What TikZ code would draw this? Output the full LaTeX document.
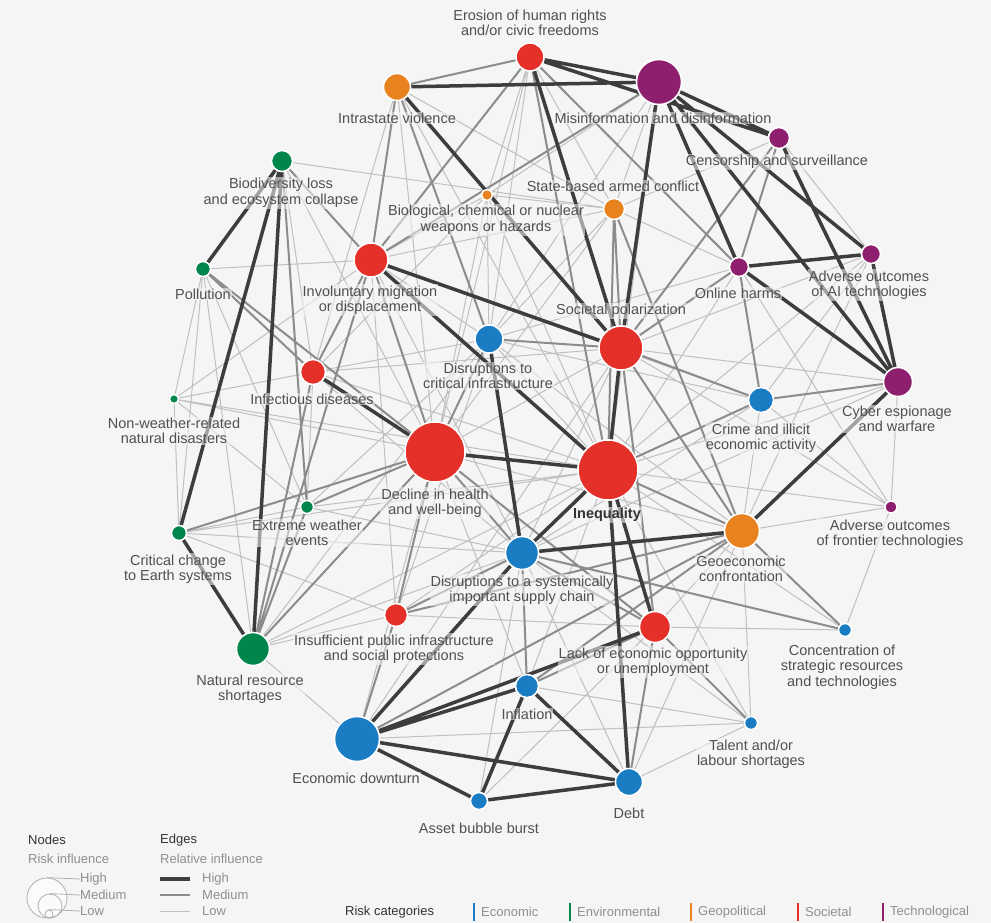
\documentclass[tikz,border=0pt]{standalone}
\usepackage{fontspec}
\setmainfont{Liberation Sans}
\usepackage{xcolor}
\usepackage{tikz}

\definecolor{bgcol}{HTML}{F5F5F5}
\definecolor{ecocol}{HTML}{1A7DC4}
\definecolor{envcol}{HTML}{00854A}
\definecolor{geocol}{HTML}{E8821E}
\definecolor{soccol}{HTML}{E5302A}
\definecolor{teccol}{HTML}{8E1F6E}
\definecolor{txtcol}{HTML}{505050}
\definecolor{hicol}{HTML}{3D3D3D}
\definecolor{mdcol}{HTML}{8C8C8C}
\definecolor{locol}{HTML}{C0C0C0}
\definecolor{lgdark}{HTML}{333333}
\definecolor{lglight}{HTML}{8F8F8F}
\definecolor{lgline}{HTML}{B0B0B0}

\pgfdeclarelayer{bg}
\pgfdeclarelayer{edges}
\pgfsetlayers{bg,edges,main}

\begin{document}
\begin{tikzpicture}[x=1pt, y=-1pt,
	nd/.style={circle, draw=white, line width=1.5pt, inner sep=0pt},
	eco/.style={nd, fill=ecocol},
	env/.style={nd, fill=envcol},
	geo/.style={nd, fill=geocol},
	soc/.style={nd, fill=soccol},
	tec/.style={nd, fill=teccol},
	lbl/.style={text=txtcol, align=center, inner sep=1pt, fill=bgcol, fill opacity=0.55, text opacity=1, font=\fontsize{14.5}{15.5}\selectfont},
	hi/.style={draw=hicol, line width=3.5pt},
	md/.style={draw=mdcol, line width=2pt},
	lo/.style={draw=locol, line width=1pt},
	lgt/.style={anchor=west, inner sep=0pt, text=lglight, font=\fontsize{13}{15}\selectfont},
	lgh/.style={lgt, text=lgdark}]
	\begin{pgfonlayer}{bg}
		\fill[bgcol] (0,0) rectangle (991,923);
	\end{pgfonlayer}
	\useasboundingbox (0,0) rectangle (991,923);

	\node[soc, minimum size=28pt] (hr) at (530,57) {};
	\node[tec, minimum size=45pt] (misinfo) at (659,82) {};
	\node[geo, minimum size=27pt] (intra) at (397,87) {};
	\node[tec, minimum size=21pt] (censor) at (779,138) {};
	\node[env, minimum size=21pt] (biodiv) at (282,161) {};
	\node[geo, minimum size=11pt] (bio) at (487,195) {};
	\node[geo, minimum size=21pt] (armed) at (614,209) {};
	\node[tec, minimum size=19pt] (ai) at (871,254) {};
	\node[soc, minimum size=34pt] (migr) at (371,260) {};
	\node[tec, minimum size=19pt] (online) at (739,267) {};
	\node[env, minimum size=15pt] (pollu) at (203,269) {};
	\node[eco, minimum size=28pt] (crit) at (489,339) {};
	\node[soc, minimum size=44pt] (polar) at (621,348) {};
	\node[soc, minimum size=25pt] (infect) at (313,372) {};
	\node[tec, minimum size=29pt] (cyber) at (898,382) {};
	\node[env, minimum size=9pt] (nonweather) at (174,399) {};
	\node[eco, minimum size=25pt] (crime) at (761,400) {};
	\node[soc, minimum size=60pt] (health) at (435,452) {};
	\node[soc, minimum size=60pt] (ineq) at (608,470) {};
	\node[env, minimum size=13pt] (extreme) at (307,507) {};
	\node[tec, minimum size=12pt] (frontier) at (891,507) {};
	\node[env, minimum size=15pt] (earth) at (179,533) {};
	\node[geo, minimum size=35pt] (geoeco) at (742,531) {};
	\node[eco, minimum size=33pt] (supply) at (522,553) {};
	\node[soc, minimum size=23pt] (insuff) at (396,615) {};
	\node[soc, minimum size=31pt] (lack) at (655,627) {};
	\node[eco, minimum size=13pt] (conc) at (845,630) {};
	\node[env, minimum size=33pt] (natres) at (253,649) {};
	\node[eco, minimum size=23pt] (infl) at (527,686) {};
	\node[eco, minimum size=13pt] (talent) at (751,723) {};
	\node[eco, minimum size=45pt] (downturn) at (357,739) {};
	\node[eco, minimum size=27pt] (debt) at (629,782) {};
	\node[eco, minimum size=17pt] (bubble) at (479,801) {};

	\begin{pgfonlayer}{edges}
		\draw[lo] (biodiv) -- (armed) (biodiv) -- (infect) (biodiv) -- (health) (pollu) -- (migr) (pollu) -- (earth)
			(pollu) -- (nonweather) (pollu) -- (natres) (pollu) -- (extreme)
			(nonweather) -- (migr) (nonweather) -- (infect) (nonweather) -- (health) (nonweather) -- (ineq)
			(nonweather) -- (earth) (nonweather) -- (extreme)
			(earth) -- (extreme) (earth) -- (ineq) (earth) -- (supply) (earth) -- (insuff)
			(extreme) -- (ineq) (extreme) -- (supply) (extreme) -- (crit) (extreme) -- (infect)
			(natres) -- (crit) (natres) -- (ineq) (natres) -- (supply) (natres) -- (insuff) (natres) -- (downturn)
			(insuff) -- (ineq) (insuff) -- (crit) (insuff) -- (lack) (insuff) -- (migr)
			(health) -- (polar) (health) -- (intra) (health) -- (bio) (health) -- (geoeco) (health) -- (infl) (health) -- (downturn)
			(ineq) -- (intra) (ineq) -- (bio) (ineq) -- (crit) (ineq) -- (frontier) (ineq) -- (cyber) (ineq) -- (online)
			(ineq) -- (ai) (ineq) -- (conc) (ineq) -- (talent) (ineq) -- (infl) (ineq) -- (infect)
			(supply) -- (polar) (supply) -- (debt) (supply) -- (bubble) (supply) -- (talent) (supply) -- (crime)
			(supply) -- (cyber) (supply) -- (infect) (supply) -- (migr)
			(lack) -- (geoeco) (lack) -- (conc) (lack) -- (bubble) (debt) -- (geoeco) (debt) -- (talent)
			(infl) -- (talent) (downturn) -- (talent) (downturn) -- (polar)
			(crime) -- (ai) (crime) -- (geoeco) (crime) -- (migr) (crime) -- (frontier) (crime) -- (crit)
			(geoeco) -- (talent) (geoeco) -- (ai) (geoeco) -- (frontier)
			(polar) -- (ai) (polar) -- (cyber) (polar) -- (infect) (polar) -- (frontier)
			(crit) -- (hr) (crit) -- (armed) (crit) -- (bio) (crit) -- (misinfo) (crit) -- (online) (crit) -- (infect) (crit) -- (geoeco)
			(hr) -- (armed) (hr) -- (bio) (hr) -- (health) (misinfo) -- (armed) (misinfo) -- (bio) (misinfo) -- (ineq)
			(intra) -- (armed) (intra) -- (infect) (censor) -- (ai) (censor) -- (armed)
			(armed) -- (bio) (armed) -- (migr) (armed) -- (online) (armed) -- (health)
			(bio) -- (migr) (bio) -- (infect) (migr) -- (crit)
			(cyber) -- (frontier) (conc) -- (frontier) (online) -- (frontier);
		\draw[md] (hr) -- (intra) (hr) -- (migr) (hr) -- (online) (hr) -- (ineq) (misinfo) -- (migr) (intra) -- (migr) (intra) -- (crit)
			(censor) -- (online) (censor) -- (polar) (biodiv) -- (migr) (biodiv) -- (extreme)
			(pollu) -- (infect) (pollu) -- (health) (earth) -- (health) (extreme) -- (health)
			(natres) -- (extreme) (natres) -- (migr) (natres) -- (infect) (natres) -- (health)
			(insuff) -- (health) (insuff) -- (supply) (insuff) -- (downturn) (insuff) -- (geoeco)
			(health) -- (crit) (health) -- (supply) (health) -- (migr) (health) -- (lack) (migr) -- (infect)
			(crit) -- (polar) (polar) -- (armed) (polar) -- (online) (polar) -- (crime) (polar) -- (geoeco) (polar) -- (lack)
			(ineq) -- (armed) (ineq) -- (crime) (ineq) -- (geoeco) (crime) -- (cyber) (crime) -- (online)
			(geoeco) -- (armed) (geoeco) -- (conc) (geoeco) -- (infl) (geoeco) -- (downturn)
			(supply) -- (infl) (supply) -- (lack) (supply) -- (conc)
			(lack) -- (talent) (lack) -- (debt) (lack) -- (infl);
		\draw[hi] (hr) -- (misinfo) (intra) -- (misinfo) (hr) -- (censor) (hr) -- (polar) (misinfo) -- (polar)
			(misinfo) -- (online) (misinfo) -- (censor) (misinfo) -- (ai) (misinfo) -- (cyber) (censor) -- (cyber)
			(online) -- (ai) (online) -- (cyber) (ai) -- (cyber) (intra) -- (polar) (migr) -- (polar) (migr) -- (ineq)
			(biodiv) -- (pollu) (biodiv) -- (earth) (biodiv) -- (natres) (earth) -- (natres)
			(infect) -- (health) (health) -- (ineq) (polar) -- (ineq) (crit) -- (supply) (ineq) -- (supply)
			(supply) -- (geoeco) (ineq) -- (lack) (ineq) -- (debt) (geoeco) -- (cyber)
			(infl) -- (debt) (downturn) -- (debt) (bubble) -- (debt) (infl) -- (bubble) (downturn) -- (bubble)
			(downturn) -- (infl) (downturn) -- (lack) (downturn) -- (supply);
	\end{pgfonlayer}

	\node[lbl] (hr-l) at (530,23) {Erosion of human rights\\and/or civic freedoms};
	\node[lbl] (misinfo-l) at (663,118) {Misinformation and disinformation};
	\node[lbl] (intra-l) at (397,118) {Intrastate violence};
	\node[lbl] (censor-l) at (777,162) {Censorship and surveillance};
	\node[lbl] (biodiv-l) at (281,193) {Biodiversity loss\\and ecosystem collapse};
	\node[lbl] (bio-l) at (486,220) {Biological, chemical or nuclear\\weapons or hazards};
	\node[lbl] (armed-l) at (613,186) {State-based armed conflict};
	\node[lbl] (ai-l) at (869,285) {Adverse outcomes\\of AI technologies};
	\node[lbl] (migr-l) at (370,300) {Involuntary migration\\or displacement};
	\node[lbl] (online-l) at (738,293) {Online harms};
	\node[lbl] (pollu-l) at (203,294) {Pollution};
	\node[lbl] (crit-l) at (488,376) {Disruptions to\\critical infrastructure};
	\node[lbl] (polar-l) at (621,311) {Societal polarization};
	\node[lbl] (infect-l) at (312,399) {Infectious diseases};
	\node[lbl] (cyber-l) at (897,419) {Cyber espionage\\and warfare};
	\node[lbl] (nonweather-l) at (174,431) {Non-weather-related\\natural disasters};
	\node[lbl] (crime-l) at (761,438) {Crime and illicit\\economic activity};
	\node[lbl] (health-l) at (435,503) {Decline in health\\and well-being};
	\node[lbl, text=lgdark, font=\fontsize{14.5}{15.5}\selectfont\bfseries] (ineq-l) at (607,515) {Inequality};
	\node[lbl] (extreme-l) at (307,533) {Extreme weather\\events};
	\node[lbl] (frontier-l) at (890,534) {Adverse outcomes\\of frontier technologies};
	\node[lbl] (earth-l) at (178,569) {Critical change\\to Earth systems};
	\node[lbl] (geoeco-l) at (741,569) {Geoeconomic\\confrontation};
	\node[lbl] (supply-l) at (522,590) {Disruptions to a systemically\\important supply chain};
	\node[lbl] (insuff-l) at (394,649) {Insufficient public infrastructure\\and social protections};
	\node[lbl] (lack-l) at (653,662) {Lack of economic opportunity\\or unemployment};
	\node[lbl] (conc-l) at (842,667) {Concentration of\\strategic resources\\and technologies};
	\node[lbl] (natres-l) at (250,689) {Natural resource\\shortages};
	\node[lbl] (infl-l) at (527,714) {Inflation};
	\node[lbl] (talent-l) at (751,754) {Talent and/or\\labour shortages};
	\node[lbl] (downturn-l) at (356,778) {Economic downturn};
	\node[lbl] (debt-l) at (629,813) {Debt};
	\node[lbl] (bubble-l) at (479,828) {Asset bubble burst};

	\node[lgh] (nodes-t) at (28,840) {Nodes};
	\node[lgt] (nodes-s) at (28,859) {Risk influence};
	\node[circle, draw=lgline, fill=white!60!bgcol, line width=0.8pt, minimum size=40pt, inner sep=0pt] (lg-hi) at (47,898) {};
	\node[circle, draw=lgline, line width=0.8pt, minimum size=24pt, inner sep=0pt] (lg-md) at (50,906) {};
	\node[circle, draw=lgline, line width=0.8pt, minimum size=8pt, inner sep=0pt] (lg-lo) at (49,914) {};
	\node[lgt] (lg-hi-t) at (80,879) {High};
	\node[lgt] (lg-md-t) at (80,895) {Medium};
	\node[lgt] (lg-lo-t) at (80,911) {Low};
	\draw[lgline, line width=0.8pt] (lg-hi.north) -- (lg-hi-t.west);
	\draw[lgline, line width=0.8pt] (lg-md.north) -- (lg-md-t.west);
	\draw[lgline, line width=0.8pt] (lg-lo.north) -- (lg-lo-t.west);

	\node[lgh] (edges-t) at (160,840) {Edges};
	\node[lgt] (edges-s) at (160,859) {Relative influence};
	\node[lgt] (lge-hi) at (202,879) {High};
	\node[lgt] (lge-md) at (202,895) {Medium};
	\node[lgt] (lge-lo) at (202,911) {Low};
	\draw[hi, line width=4pt] ([xshift=-12pt]lge-hi.west) -- ++(-30,0);
	\draw[md, line width=2.5pt] ([xshift=-12pt]lge-md.west) -- ++(-30,0);
	\draw[lo] ([xshift=-12pt]lge-lo.west) -- ++(-30,0);

	\node[lgh] (cat-t) at (345,912) {Risk categories};
	\node[lgt] (cat-eco) at (481,912) {Economic};
	\node[lgt] (cat-env) at (577,912) {Environmental};
	\node[lgt] (cat-geo) at (698,912) {Geopolitical};
	\node[lgt] (cat-soc) at (805,912) {Societal};
	\node[lgt] (cat-tec) at (890,912) {Technological};
	\draw[ecocol, line width=2.5pt] ([xshift=-7pt]cat-eco.west) ++(0,-9) -- ++(0,18);
	\draw[envcol, line width=2.5pt] ([xshift=-7pt]cat-env.west) ++(0,-9) -- ++(0,18);
	\draw[geocol, line width=2.5pt] ([xshift=-7pt]cat-geo.west) ++(0,-9) -- ++(0,18);
	\draw[soccol, line width=2.5pt] ([xshift=-7pt]cat-soc.west) ++(0,-9) -- ++(0,18);
	\draw[teccol, line width=2.5pt] ([xshift=-7pt]cat-tec.west) ++(0,-9) -- ++(0,18);
\end{tikzpicture}
\end{document}
